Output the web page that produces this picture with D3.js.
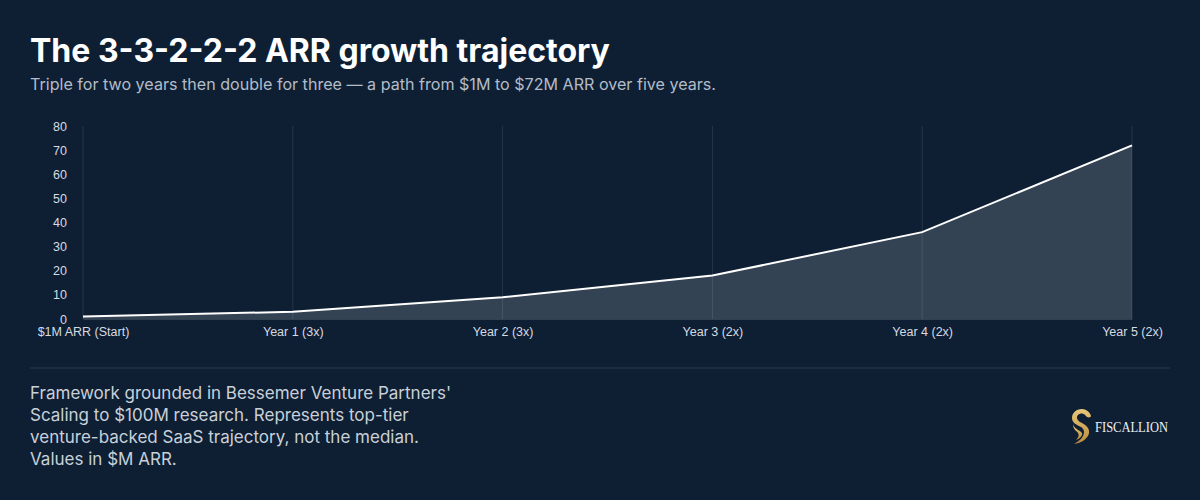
<!DOCTYPE html>
<html lang="en">
<head>
    <meta charset="UTF-8">
    <title>The 3-3-2-2-2 ARR growth trajectory</title>
    <script src="https://d3js.org/d3.v7.min.js"></script>
    <style>
        html, body { margin: 0; padding: 0; background: #0e1f33; }
        body { width: 1200px; height: 500px; overflow: hidden; font-family: Inter, "Noto Sans", sans-serif; }
        .tick text { font-family: "Liberation Sans", Arial, sans-serif; font-size: 12.5px; fill: #d6dbe2; }
    </style>
</head>
<body>
    <svg width="1200" height="500"></svg>
    <script>
        const categories = ["$1M ARR (Start)", "Year 1 (3x)", "Year 2 (3x)", "Year 3 (2x)", "Year 4 (2x)", "Year 5 (2x)"];
        const arrValues = [1, 3, 9, 18, 36, 72];
        const yTicks = [0, 10, 20, 30, 40, 50, 60, 70, 80];
        const footLines = [
            "Framework grounded in Bessemer Venture Partners'",
            "Scaling to $100M research. Represents top-tier",
            "venture-backed SaaS trajectory, not the median.",
            "Values in $M ARR."
        ];

        const data = categories.map((c, i) => ({ label: c, value: arrValues[i] }));

        const svg = d3.select("svg");
        svg.append("rect").attr("width", 1200).attr("height", 500).attr("fill", "#0e1f33");

        // title + subtitle
        svg.append("text").attr("x", 30).attr("y", 62)
            .attr("fill", "#ffffff").attr("font-size", 32).attr("font-weight", 700)
            .text("The 3-3-2-2-2 ARR growth trajectory");
        svg.append("text").attr("x", 30).attr("y", 90)
            .attr("fill", "#b3bcc8").attr("font-size", 16.1)
            .text("Triple for two years then double for three \u2014 a path from $1M to $72M ARR over five years.");

        const plot = { left: 83, right: 1132, top: 126, bottom: 319 };

        const x = d3.scalePoint().domain(categories).range([plot.left, plot.right]);
        const y = d3.scaleLinear().domain([0, 80]).range([plot.bottom, plot.top]);

        // vertical grid
        svg.append("g").selectAll("line")
            .data(categories)
            .enter().append("line")
            .attr("x1", d => x(d)).attr("x2", d => x(d))
            .attr("y1", plot.top).attr("y2", plot.bottom)
            .attr("stroke", "rgba(255,255,255,0.1)").attr("stroke-width", 1);

        // area + line
        const area = d3.area().x(d => x(d.label)).y0(y(0)).y1(d => y(d.value));
        const line = d3.line().x(d => x(d.label)).y(d => y(d.value));

        svg.append("path").datum(data).attr("d", area).attr("fill", "rgba(255,255,255,0.16)");
        svg.append("path").datum(data).attr("d", line)
            .attr("fill", "none").attr("stroke", "#ffffff").attr("stroke-width", 2);

        // axes
        const yAxis = svg.append("g").attr("transform", `translate(${plot.left},0)`)
            .call(d3.axisLeft(y).tickValues(yTicks).tickSize(0).tickPadding(16));
        yAxis.select(".domain").remove();

        const xAxis = svg.append("g").attr("transform", `translate(0,${plot.bottom})`)
            .call(d3.axisBottom(x).tickSize(0).tickPadding(8));
        xAxis.select(".domain").attr("stroke", "rgba(255,255,255,0.15)");

        // divider
        svg.append("line").attr("x1", 30).attr("x2", 1170).attr("y1", 368).attr("y2", 368)
            .attr("stroke", "rgba(255,255,255,0.12)").attr("stroke-width", 1);

        // footnote
        svg.append("g").selectAll("text")
            .data(footLines)
            .enter().append("text")
            .attr("x", 30).attr("y", (d, i) => 399 + i * 22)
            .attr("fill", "#c9d0d9").attr("font-size", 17)
            .text(d => d);

        // logo
        const logo = svg.append("g").attr("transform", "translate(1071,409)");
        const gold = logo.append("defs").append("linearGradient").attr("id", "gold")
            .attr("x1", 0).attr("y1", 0).attr("x2", 0).attr("y2", 1);
        gold.append("stop").attr("offset", "0%").attr("stop-color", "#e9c879");
        gold.append("stop").attr("offset", "100%").attr("stop-color", "#b98a3c");
        logo.append("path")
            .attr("d", "M11,0 C5,0 1,4 1,9 C1,14 6,16 10,18 C13,20 14,23 12,27 C10,31 6,33 3,35 C10,34 17,30 18,24 C19,18 13,15 9,13 C6,11 5,8 7,6 C9,4 12,4 14,6 L16,8 C18,9 20,8 20,7 C19,3 15,0 11,0 Z")
            .attr("fill", "url(#gold)");
        logo.append("path")
            .attr("d", "M2,15 C3,20 9,21 11,24 C12,27 8,30 5,31 C9,27 8,24 5,22 C3,20 2,18 2,15 Z")
            .attr("fill", "url(#gold)");
        svg.append("text").attr("x", 1095).attr("y", 432)
            .attr("fill", "#eef0f3").attr("font-family", "'Liberation Serif', 'DejaVu Serif', serif")
            .attr("font-size", 15).attr("textLength", 73).attr("lengthAdjust", "spacingAndGlyphs")
            .text("FISCALLION");
    </script>
</body>
</html>
